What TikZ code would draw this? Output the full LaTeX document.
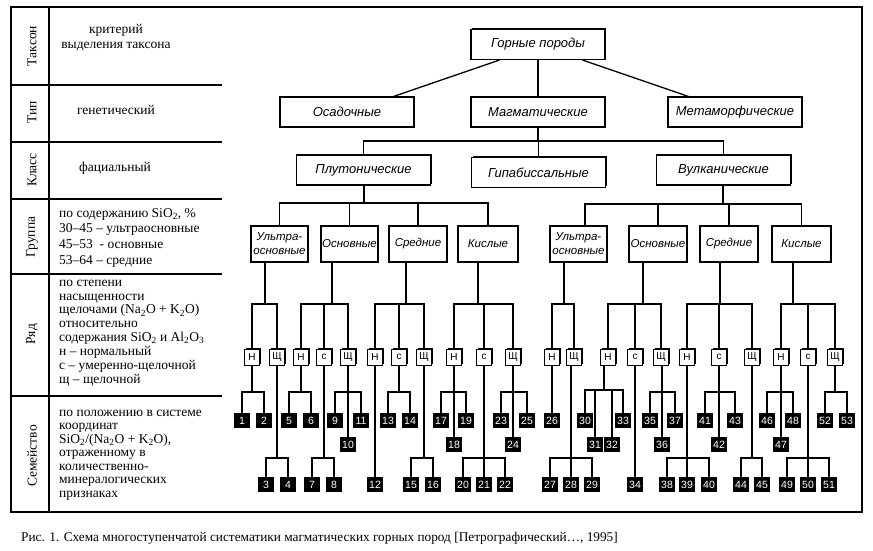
\documentclass[tikz,border=0pt]{standalone}
\usepackage{fontspec}
\setmainfont{Liberation Serif}
\setsansfont{Liberation Sans}
\usetikzlibrary{shadows,calc}
\newcommand\fork[2]{\edef\forklist{#2}\foreach \c in \forklist {\draw[conn] (#1) -- (\c.north |- #1) -- (\c.north);}}
\begin{document}
\begin{tikzpicture}[x=1pt,y=-1pt,
  conn/.style={line width=1.3pt},
  tab/.style={line width=1.4pt},
  shad/.style={general shadow={fill=black, shadow xshift=1.3pt, shadow yshift=1.3pt}},
  bigbox/.style={draw, line width=1.1pt, fill=white, shad, minimum width=134pt, minimum height=30pt, inner sep=0pt, font=\sffamily\itshape\fontsize{13}{15}\selectfont},
  grpbox/.style={draw, line width=1.1pt, fill=white, shad, minimum height=36pt, inner sep=0pt, align=center, font=\sffamily\itshape\fontsize{11.5}{14}\selectfont},
  rowbox/.style={draw, line width=1pt, fill=white, shad, minimum width=15pt, minimum height=16pt, inner sep=0pt, font=\sffamily\fontsize{10}{12}\selectfont},
  numbox/.style={fill=black, text=white, minimum width=16pt, minimum height=15pt, inner sep=0pt, font=\sffamily\fontsize{10.5}{12}\selectfont},
  vlab/.style={rotate=90, inner sep=0pt, font=\fontsize{13.5}{15}\selectfont},
  ctext/.style={inner sep=0pt, align=center, font=\fontsize{13.5}{15}\selectfont},
  ltext/.style={inner sep=0pt, align=left, anchor=west}
]
\useasboundingbox (0,0) rectangle (873,550);
% table frame
\draw[tab] (11,7) rectangle (862,512);
\draw[tab] (49,7) -- (49,512);
\foreach \yy in {85,142,199,274,396} {\draw[tab] (11,\yy) -- (222,\yy);}
% rotated taxon labels
\node[vlab] (lTakson) at (32,46) {Таксон};
\node[vlab] (lTip) at (32,112) {Тип};
\node[vlab] (lKlass) at (32,170) {Класс};
\node[vlab] (lGruppa) at (32,237) {Группа};
\node[vlab] (lRyad) at (32,334) {Ряд};
\node[vlab] (lSem) at (32,456) {Семейство};
% criteria texts
\node[ctext] (tTakson) at (116,37.5) {критерий\\выделения таксона};
\node[ctext] (tTip) at (116,110) {генетический};
\node[ctext] (tKlass) at (115,168) {фациальный};
\node[ltext, font=\fontsize{13.5}{15.7}\selectfont] (tGruppa) at (59,237.5)
  {по содержанию SiO\textsubscript{2}, \%\\30–45 – ультраосновные\\45–53 \ - основные\\53–64 – средние};
\node[ltext, font=\fontsize{13.5}{13.9}\selectfont] (tRyad) at (59,333)
  {по степени\\насыщенности\\щелочами (Na\textsubscript{2}O + K\textsubscript{2}O)\\относительно\\содержания SiO\textsubscript{2} и Al\textsubscript{2}O\textsubscript{3}\\н – нормальный\\с – умеренно-щелочной\\щ – щелочной};
\node[ltext, font=\fontsize{13.5}{13.5}\selectfont] (tSem) at (59,455)
  {по положению в системе\\координат\\SiO\textsubscript{2}/(Na\textsubscript{2}O + K\textsubscript{2}O),\\отраженному в\\количественно-\\минералогических\\признаках};
% caption
\node[ltext, font=\fontsize{13.3}{15}\selectfont] (cap) at (21,538)
  {Рис. 1. Схема многоступенчатой систематики магматических горных пород [Петрографический…, 1995]};

% big boxes
\node[bigbox] (gp) at (538,44.5) {Горные породы};
\node[bigbox] (osad) at (347,112) {Осадочные};
\node[bigbox] (magm) at (538,112) {Магматические};
\node[bigbox] (meta) at (735,112) {Метаморфические};
\node[bigbox] (plut) at (363.5,170) {Плутонические};
\node[bigbox] (gip) at (538.5,172.5) {Гипабиссальные};
\node[bigbox] (vulk) at (723.5,170) {Вулканические};
\draw[conn] ($(gp.south west)+(29,0)$) -- ($(osad.north east)+(-21,0)$);
\draw[conn] ($(gp.south east)+(-23,0)$) -- ($(meta.north west)+(21,0)$);
\draw[conn] (gp.south) -- (magm.north);
\coordinate (jm) at (538,141);
\draw[conn] (magm.south) -- (jm);
\fork{jm}{plut,gip,vulk}

% group boxes
\node[grpbox, minimum width=57pt] (u1) at (279.5,244) {Ультра-\\основные};
\node[grpbox, minimum width=57pt] (o1) at (349.5,244) {Основные};
\node[grpbox, minimum width=58pt] (s1) at (418,244) {Средние};
\node[grpbox, minimum width=60pt] (k1) at (488,244) {Кислые};
\node[grpbox, minimum width=57pt] (u2) at (578.5,244) {Ультра-\\основные};
\node[grpbox, minimum width=58pt] (o2) at (658,244) {Основные};
\node[grpbox, minimum width=58pt] (s2) at (729,244) {Средние};
\node[grpbox, minimum width=59pt] (k2) at (801.5,244) {Кислые};
\coordinate (jp) at (364,203);
\draw[conn] (plut.south -| jp) -- (jp);
\fork{jp}{u1,o1,s1,k1}
\coordinate (jv) at (723,204);
\coordinate (u2in) at ($(u2.north)+(6.5,0)$);
\draw[conn] (vulk.south -| jv) -- (jv);
\draw[conn] (jv) -- (u2in |- jv) -- (u2in);
\fork{jv}{o2,s2,k2}

% series boxes
\foreach \nm/\xx/\tx in {u1n/252/Н,u1s/277/Щ,o1n/301/Н,o1c/324/с,o1s/348/Щ,s1n/375/Н,s1c/399/с,s1s/424/Щ,k1n/454/Н,k1c/484/с,k1s/513/Щ,
  u2n/552/Н,u2s/574/Щ,o2n/608/Н,o2c/635/с,o2s/661/Щ,s2n/687/Н,s2c/719/с,s2s/752/Щ,k2n/781/Н,k2c/808/с,k2s/835/Щ}
  {\node[rowbox] (\nm) at (\xx,357) {\tx};}
\foreach \g/\xx/\kids in {u1/265/{u1n,u1s},o1/332/{o1n,o1c,o1s},s1/406/{s1n,s1c,s1s},k1/478/{k1n,k1c,k1s},
  u2/564/{u2n,u2s},o2/643/{o2n,o2c,o2s},s2/720/{s2n,s2c,s2s},k2/793/{k2n,k2c,k2s}}
  {\coordinate (j\g) at (\xx,304);
   \draw[conn] (\g.south -| j\g) -- (j\g);
   \fork{j\g}{\kids}}

% family boxes
\foreach \n/\xx in {1/242,2/264,5/289,6/311,9/335,11/361,13/388,14/410,17/441,19/466,23/501,25/527,26/552,30/585,33/623,35/650,37/675,41/705,43/735,46/767,48/793,52/825,53/847}
  {\node[numbox] (f\n) at (\xx,420.5) {\n};}
\foreach \n/\xx in {10/348,18/454,24/513,31/595,32/612,36/662,42/719,47/781}
  {\node[numbox] (f\n) at (\xx,444.5) {\n};}
\foreach \n/\xx in {3/266,4/288,7/312,8/334,12/375,15/411,16/433,20/463,21/484,22/505,27/550,28/571,29/592,34/635,38/667,39/687,40/709,44/741,45/762,49/787,50/808,51/829}
  {\node[numbox] (f\n) at (\xx,484.5) {\n};}

\foreach \p/\xx/\yy/\kids in {u1n/252/392/{f1,f2},u1s/277/458/{f3,f4},o1n/301/392/{f5,f6},o1c/324/458/{f7,f8},o1s/348/392/{f9,f11,f10},
  s1c/399/392/{f13,f14},s1s/424/458/{f15,f16},k1n/454/392/{f17,f19,f18},k1c/484/458/{f20,f21,f22},k1s/513/392/{f23,f25,f24},
  u2s/571/458/{f27,f28,f29},o2n/604/390/{f30,f31,f32,f33},o2s/662/392/{f35,f37,f36},s2n/687/458/{f38,f39,f40},
  s2c/719/392/{f41,f43,f42},s2s/752/458/{f44,f45},k2n/781/392/{f46,f48,f47},k2c/808/458/{f49,f50,f51},k2s/835/392/{f52,f53}}
  {\coordinate (j\p) at (\xx,\yy);
   \draw[conn] (\p.south -| j\p) -- (j\p);
   \fork{j\p}{\kids}}
\draw[conn] (s1n.south) -- (f12.north);
\draw[conn] (u2n.south) -- (f26.north);
\draw[conn] (o2c.south) -- (f34.north);
\end{tikzpicture}
\end{document}
